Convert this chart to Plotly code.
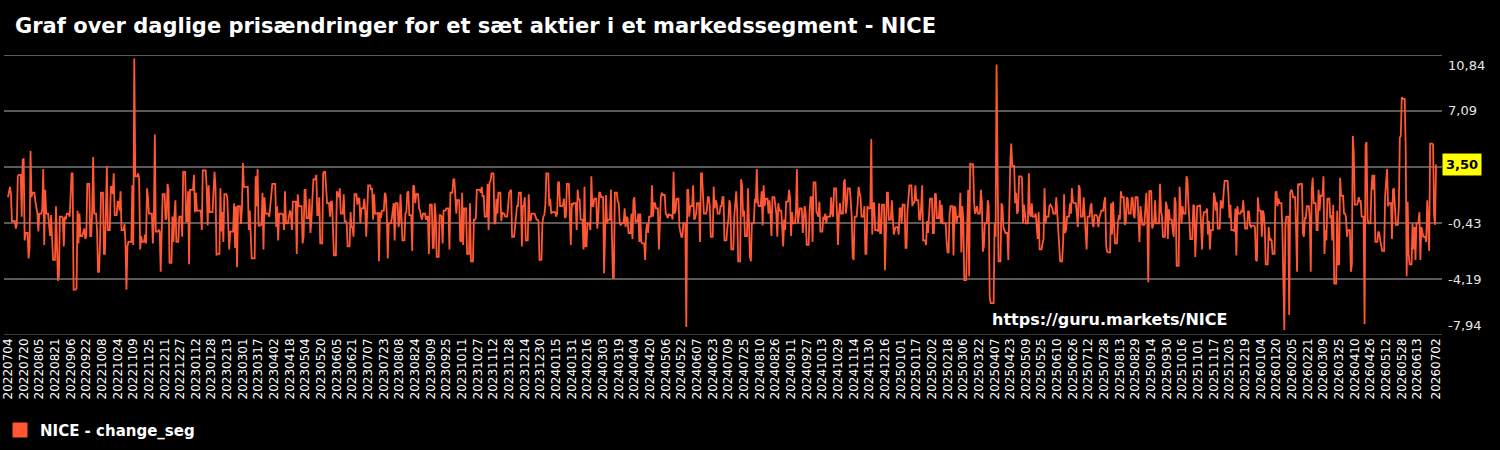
import datetime as dt
import plotly.graph_objects as go

# ---------------- data (weekday values) ----------------
START_DATE = "20220704"
END_DATE = "20260702"

C0 = [1.3, 1.8, 2.0, 1.5, -0.3, -0.3, -0.8, -0.5, 2.7, 2.8,
      0.0, 3.8, 3.9, -1.6, -1.1, -2.8, -2.1, 4.4, 1.3, 1.6,
      1.0, 0.4, 0.2, -1.0, 0.2, 0.5, 3.2, -1.9, 1.8, 0.2,
      -0.6, -1.3, 0.1, -2.2, -2.9, 0.7, -1.8, -4.3, -4.0, 0.0,
      -0.1, -2.0, 0.0, -0.2, 0.2, 0.0, 2.1, 2.9, 2.9, -4.9,
      -4.8, 0.4, -1.8, 0.2, -1.3, -1.0, -0.8, -1.5, -1.3, 2.2,
      -1.3, -1.3, 0.4, 4.0, 0.2, -1.0, -3.7, -3.7, -1.8, 1.6,
      -2.5, -2.5, 0.5, 3.4, -0.9, 2.0, 2.0, 1.5, 2.9, 0.1,
      1.0, 1.0, 0.4, 1.7, -0.9, -0.5, -1.8]
C1 = [-4.9, -2.0, -1.7, -1.7, 2.1, -1.9, 10.6, 2.7, 2.9, 2.5,
      -2.2, -1.3, -1.7, -1.2, -1.8, 1.9, 1.3, 0.2, 0.2, -1.8,
      -0.1, 5.5, -1.0, -0.9, -1.0, -3.7, -0.2, 1.5, -0.2, -0.1,
      2.2, 1.8, -3.1, 0.0, -1.7, 0.0, 1.1, -1.7, 0.0, 0.0,
      0.0, -1.35, 3.0, -0.3, -0.3, 1.7, -3.2, 1.8, 1.8, 2.8,
      0.3, 1.6, 0.4, 0.4, 0.4, -0.9, 3.1, 3.1, 1.9, -0.6,
      2.1, 0.3, 0.3, 1.7, 3.0, 2.0, -2.6, -2.5, 1.9, -1.0,
      0.3, -1.7, 1.5, 1.3, 0.0, -2.2, -1.0, -1.0, 0.9, -2.1,
      0.7, -3.4, 0.7, -0.5, 0.5, 3.6, 2.0]
C2 = [2.0, 2.0, -0.9, 0.4, -1.3, -2.8, -2.8, 2.7, 0.7, 3.2,
      -0.6, -0.5, 1.6, -2.2, 1.3, 0.2, 0.2, 0.0, 0.8, 1.8,
      2.2, 2.2, -0.7, 0.7, -1.6, 0.2, 0.2, 0.1, -0.9, 1.7,
      -0.45, 0.0, 0.4, 0.2, -0.9, 1.0, 1.0, -2.5, 1.5, 0.7,
      0.7, -1.8, -1.35, 1.8, 1.8, -0.1, 1.2, -1.1, -0.2, 1.3,
      2.5, 2.8, 0.1, 0.1, 1.3, -1.8, 2.9, 3.0, 3.0, 2.2,
      0.9, 0.0, 1.0, 1.0, -0.5, -2.6, 1.7, 1.5, 1.3, 1.9,
      0.2, 1.5, -0.3, -0.3, -0.45, -2.0, 0.3, -0.7, -0.7, -1.35,
      1.5, 0.8, 1.2, 1.2, -0.45, 0.55, 1.2]
C3 = [0.4, -1.35, 0.2, 2.1, 1.8, 1.9, -0.2, 1.5,
      0.2, 0.3, -3.0, 0.3, -0.1, 0.4, 1.6,
      1.4, 0.2, -2.8, -0.45, -0.2, 0.2, 0.9, -1.6, 0.9,
      -0.7, -0.3, 1.5, -0.9, -1.6, 0.2, 0.3, 1.6, 1.7,
      0.1, -2.3, 2.1, 2.0, 0.9, 1.5, 0.55, 0.4,
      0.0, -0.2, 0.2, -0.2, 0.0, 0.0, -2.5, 0.8, -2.1, -2.1,
      0.9, 0.0, -2.7, 0.1, 0.1, 0.0, -1.8, 0.4, 0.55, 0.55,
      0.55, -2.2, 1.6, 2.5, 2.5, 1.4, 0.2, 1.1, -1.6, -1.7,
      1.6, -1.9, 0.55, -2.5, -2.5, -2.5, 0.9, -3.0, -0.2, -0.2,
      -0.1, 1.8, 1.8, 1.6, 2.0, 1.3]
C4 = [1.45, 0.0, 2.2, -0.9, 2.3, 2.4, 2.9, -0.45, -0.45,
      1.2, 0.2, 1.6, -0.3, 0.3, 0.2, 0.2, 0.0, 0.7,
      1.6, 1.7, 1.8, -1.35, -0.7, 0.3, 0.7, 0.7, 1.6,
      -2.0, 0.7, 0.7, 1.3, -1.6, 1.5, -0.2, -0.3, 0.2,
      0.2, 0.0, -0.2, -0.2, -0.3, -2.9, -0.45, 0.0, 0.1, 0.8,
      2.9, 0.7, 1.2, 0.2, 0.3, 0.3, 0.0, 0.2, 2.3, 2.3,
      0.7, 0.8, 1.2, -0.1, 0.0, 2.2, 0.2, -1.9, 0.9, 0.8,
      0.9, -0.9, 1.8, 1.1, 1.2, -0.2, -2.2, 2.0, -2.0, -2.0,
      -0.45, -0.9, 2.7, 0.7, 0.7, 1.2, -0.8, -0.2, 1.6,
      1.6, 1.3, -3.8]
C5 = [-0.2, 1.45, -0.45, -0.2, 1.8, -0.9, -4.1, -4.1, 1.6,
      1.0, 0.9, -0.45, -0.55, -0.45, 0.55, -0.7, 0.0, -0.1,
      -1.1, 0.2, -1.5, 1.1, 1.3, -0.3, 0.2, -1.7, 0.2, -1.7,
      -1.8, -2.9, -0.9, -0.45, -1.1, 0.0, 2.1, 0.0, 0.9,
      0.9, 0.55, -2.2, 0.0, 1.3, 1.6, 1.45, 0.2, 0.1, -0.1,
      0.2, 0.1, -0.2, 3.0, 0.2, 0.4, 1.2, -0.7, -1.0,
      -1.35, -1.35, -0.45, -7.4, 1.8, 1.8, 0.0, 0.7, 2.1,
      -0.2, -0.1, 0.2, 0.9, -1.7, 2.9, 2.9, 0.7, 0.2, 0.4,
      1.3, 1.3, 0.7, -1.35, 2.0, 0.55, 1.1, 0.9, 0.2, 0.7,
      0.7, 1.3]
C6 = [1.3, -1.6, -0.7, -0.2, 1.1, 0.7, -2.2, 0.0,
      0.7, 1.7, 0.4, -3.0, 2.5, 2.1, 0.0, 0.4, -1.3,
      1.9, -1.3, -2.7, -3.0, -0.45, 1.2, 0.9, 3.2, 1.0,
      0.7, 1.7, -0.6, 2.1, 0.7, 1.2, 0.2, 1.1, 0.2,
      -1.3, 1.3, 0.7, 0.2, -1.35, 0.9, 0.4, -0.7, -2.0,
      -0.2, -0.9, 1.0, 1.8, 1.3, -1.3, 0.3,
      -0.45, 0.3, 3.2, -0.45, 0.0, 0.55, -1.1, 0.2, 0.7,
      0.2, -1.9, 0.4, 1.3, 1.3, -1.7, 2.3, 0.3, 0.2, 0.0,
      1.0, -1.0, 0.0, -0.2, 0.2, -0.45, 0.0, 0.0, 1.3, 0.2,
      0.0, 1.9, 0.1, -1.9, 0.2, 0.9, 0.2, 2.3]
C7 = [2.5, 0.2, 0.8, 1.9, 1.1, 0.0, -2.7,
      -2.9, 0.0, 0.8, 2.0, 1.6, 1.3, 0.0, 0.7, -2.5, -2.5,
      0.7, 0.55, 5.2, -1.2, 0.9, 0.9, -0.9, -1.0, 0.9,
      -1.1, -1.1, 0.8, -3.6, -0.2, 1.6, 1.6, -0.2, 1.1,
      -0.1, -1.2, -0.9, -0.7, -1.2, 0.55, 0.55, -0.45,
      0.8, -2.1, -2.1, 0.4, 1.3, 2.1, 0.7, 1.0, 0.9,
      2.1, 1.1, -0.2, -0.2, 0.7, 2.1, -1.6, -1.9, -0.3, -1.1,
      0.2, 1.2, -1.1, -1.1, 1.5, 1.5, -0.1, 1.1, -0.45, 0.8,
      -0.45, -0.45, -1.7, -2.4, -2.4, 0.2, 0.7, -2.6, 0.7, 0.55,
      -0.45, 0.0, 1.6, -2.4, 0.7]
C8 = [-0.2, -4.25, -0.6, 1.8, -4.0, 3.6, 3.5, 1.0, 0.2,
      0.4, 0.7, 0.2, 1.8, 1.0, -2.35, -2.0, -0.45, 1.1,
      0.7, -5.4, -5.8, -5.8, -0.45, -1.35, 10.2, -0.45, -3.0, 0.9,
      0.7, -0.7, -1.0, -1.1, -2.9, 1.8, 3.6, 4.9, 3.4,
      0.9, 1.6, 0.2, 0.4, 2.7, 2.6, -0.45, 0.8, -0.2, -0.45,
      2.9, 0.2, 0.0, 0.9, 0.0, 0.2, -0.7, -1.5, 0.3,
      -2.2, -1.8, -1.5, 1.9, -0.45, 0.0, 0.7, 0.8, 0.7,
      0.55, 0.2, 1.3, 0.2, -0.6, -1.35, -3.0, -1.7, 1.5, -1.1,
      -0.9, 0.0, 0.9, 0.2, 1.9, 1.0, 0.9, 0.2, -0.7,
      2.1, 1.9, 0.0, 1.3]
C9 = [0.1, -1.8, -2.2, 0.0, 0.7, 0.9, -0.45, -0.7,
      0.1, 0.0, -0.7, -0.1, 0.1, 0.4, 1.0, 1.3, -2.0,
      -2.35, -2.4, 0.9, -1.2, 1.0, -0.1, -1.8, -0.45, 0.1,
      -0.2, 1.7, 1.3, -0.55, -0.45, 1.3, 1.2, 0.2,
      1.2, 1.3, 0.1, -0.1, 1.3, -0.2, -1.7, 0.7, 0.0, -0.55,
      0.55, 1.6, -0.1, -4.4, 1.7, -0.8, -0.45, -0.3, 1.1, -0.45,
      -0.45, 2.2, 0.4, 0.0, -1.35, 1.0, 0.7,
      -1.5, 0.5, -0.2, -0.9, -1.35, 1.3, 0.9, -3.3,
      2.0, 0.7, -0.45, 0.7, 0.2, 2.7, 2.5, 0.9, -0.2,
      -1.5, 0.8, 0.7, -2.7, -0.2, 0.7, 0.8, -0.45,
      -2.2]
C10 = [-0.1, 0.3, 0.55, -1.2, -0.3, -2.2,
       -0.9, 1.6, 1.3, 0.4, 1.0, -0.8,
       1.1, 0.9, 0.55, 1.6, 2.4, 2.4, 1.4,
       -0.1, 0.8, -0.9, -1.0, 0.55, -2.6, 0.7, 0.2,
       0.4, 0.3, 1.1, 0.4, -0.8, 0.4, 0.3, -0.6,
       -0.7, -0.6, -0.7, -2.9, -3.0, 1.3, 0.4, -1.35,
       0.4, 0.2, -0.7, -3.2, -0.7, -1.6, -1.5, -1.6,
       -2.5, 1.6, 1.7, 0.7, 1.2, 0.9, -0.8,
       -3.8, -7.6, -0.7, 0.0, -6.6, 1.6, 1.8, 1.7,
       1.3, -0.8, -3.7, 2.2, 2.1, 2.2, -1.1, -1.35,
       -0.1, -0.1, 0.7, -0.1, -3.7, 1.8, 2.6, 0.9,
       -0.9, -0.9, 1.8, 0.4, 1.4, 2.7]
C11 = [-2.5, -0.9, -1.6, 1.2, -0.1, 0.1, -1.6,
       0.8, -4.5, 0.4, -3.2, -3.2, 2.6, 1.4, 0.2,
       0.2, 0.0, -1.35, -0.9, -3.7, -3.2, 5.4, 4.2,
       0.8, 0.9, 1.3, 1.0, 1.1, 0.0, -7.2, 4.8,
       5.0, -0.2, -0.45, 1.8, 2.8, 1.8, 2.8,
       -1.7, -1.0, -1.1, -1.6, -1.9, -2.3, 1.4,
       2.7, 3.2, 0.7, 0.9, -1.5, 1.8, 1.9,
       0.0, -0.55, 0.7, 5.3, 5.4, 8.0, 7.9, 4.6, -4.0,
       1.0, -2.5, -3.2, -0.45, -2.2, -0.7, -2.9, -0.45,
       0.3, -2.9, -0.7, -1.1, -1.35, -1.7, 1.1, -0.45,
       -2.3, 4.9, 4.8, 0.1, -0.55, 3.5]

WEEKDAY_VALUES = C0 + C1 + C2 + C3 + C4 + C5 + C6 + C7 + C8 + C9 + C10 + C11

Y_TICKS = [-7.94, -4.19, -0.43, 3.33, 7.09, 10.84]
Y_LABELS = ["-7,94", "-4,19", "-0,43", "", "7,09", "10,84"]
LAST_LABEL = "3,50"
LAST_VALUE = 3.5
SERIES_NAME = "NICE - change_seg"
TITLE = "Graf over daglige prisændringer for et sæt aktier i et markedssegment - NICE"
WATERMARK = "https://guru.markets/NICE"

# ---------------- build calendar series (weekends carry Friday's value) ----------------
d = dt.datetime.strptime(START_DATE, "%Y%m%d").date()
end = dt.datetime.strptime(END_DATE, "%Y%m%d").date()
dates, values = [], []
it = iter(WEEKDAY_VALUES)
last = None
while d <= end:
    if d.weekday() < 5:
        last = next(it, last)
    dates.append(d.strftime("%Y%m%d"))
    values.append(last)
    d += dt.timedelta(days=1)

n = len(dates)
tick_idx = list(range(0, n - 16, 16)) + [n - 1]
tick_vals = [dates[i] for i in tick_idx]

LINE_COLOR = "#FF5733"
GRID_COLOR = "#5a5a5a"
FONT = "DejaVu Sans"

fig = go.Figure()
fig.add_trace(go.Scatter(x=dates, y=values, mode="lines",
                         line=dict(color=LINE_COLOR, width=1.8),
                         showlegend=False, hoverinfo="x+y"))
fig.add_trace(go.Scatter(x=[None], y=[None], mode="markers",
                         name="<b>%s</b>" % SERIES_NAME,
                         marker=dict(symbol="square", size=15, color=LINE_COLOR),
                         showlegend=True))

annotations = []
for v, lab in zip(Y_TICKS, Y_LABELS):
    if not lab:
        continue
    ys = 0
    if v == Y_TICKS[-1]:
        ys = -10
    elif v == Y_TICKS[0]:
        ys = 10
    annotations.append(dict(xref="paper", x=1, xanchor="left", xshift=4,
                            yref="y", y=v, yanchor="middle", yshift=ys,
                            text=lab, showarrow=False,
                            font=dict(family=FONT, size=13, color="#e6e6e6")))
annotations.append(dict(xref="paper", x=1, xanchor="left", xshift=0,
                        yref="y", y=LAST_VALUE, yanchor="middle",
                        text="<b>%s</b>" % LAST_LABEL, showarrow=False,
                        bgcolor="#FFFF00", borderpad=3,
                        font=dict(family=FONT, size=13, color="#000000")))
annotations.append(dict(xref="paper", x=0.686, xanchor="left",
                        yref="paper", y=0.054, yanchor="middle",
                        text="<b>%s</b>" % WATERMARK, showarrow=False,
                        font=dict(family=FONT, size=16, color="#ffffff")))

shapes = [
    dict(type="line", xref="paper", x0=0, x1=1, yref="y",
         y0=Y_TICKS[-1], y1=Y_TICKS[-1], line=dict(color=GRID_COLOR, width=2), layer="below"),
    dict(type="line", xref="paper", x0=0, x1=1, yref="y",
         y0=Y_TICKS[0], y1=Y_TICKS[0], line=dict(color="#3c3c3c", width=2), layer="below"),
]

fig.update_layout(
    width=1500, height=450,
    paper_bgcolor="#000000", plot_bgcolor="#000000",
    margin=dict(l=1, r=58, t=55, b=115),
    title=dict(text="<b>%s</b>" % TITLE, x=0.01, xanchor="left",
               xref="container", yref="container", y=0.944, yanchor="middle",
               font=dict(family=FONT, size=21, color="#ffffff")),
    showlegend=True,
    legend=dict(orientation="h", x=0.0, xanchor="left", xref="container",
                y=0.044, yanchor="middle", yref="container",
                font=dict(family=FONT, size=15, color="#ffffff"),
                bgcolor="rgba(0,0,0,0)", itemsizing="trace"),
    annotations=annotations,
    shapes=shapes,
)
fig.update_xaxes(type="category", range=[-4.1, n - 1 + 6.1],
                 tickmode="array", tickvals=tick_vals, ticktext=tick_vals,
                 tickangle=-90, showgrid=False, zeroline=False, showline=False,
                 ticks="", tickfont=dict(family=FONT, size=12, color="#ffffff"))
fig.update_yaxes(range=[Y_TICKS[0], Y_TICKS[-1]], tickmode="array", tickvals=Y_TICKS,
                 showticklabels=False, showgrid=True, gridcolor=GRID_COLOR, gridwidth=2,
                 zeroline=False, showline=False, side="right", ticks="")

fig.write_html("out.html")
